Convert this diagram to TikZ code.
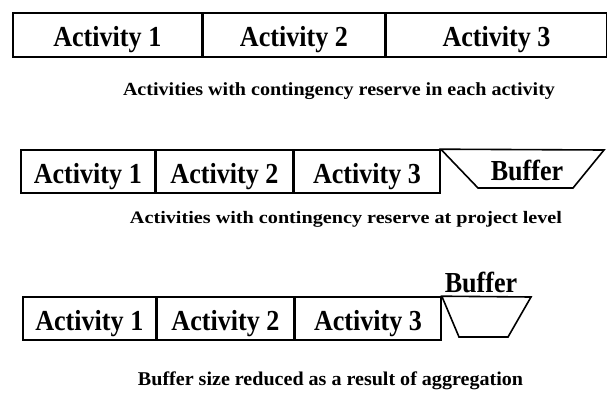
\documentclass[tikz,border=0pt]{standalone}
\usepackage{fontspec}
\usepackage{graphicx}
\setmainfont{Liberation Serif}
\newfontfamily\actfont[FakeStretch=0.90]{Liberation Serif}
\begin{document}
\begin{tikzpicture}[x=1pt,y=-1pt,
  act/.style={draw, line width=1.6pt, inner sep=0pt, anchor=west,
    font=\actfont\bfseries\fontsize{29}{29}\selectfont,
    text height=23pt, text depth=0pt},
  rowone/.style={act, minimum height=44pt},
  rowtwo/.style={act, minimum height=43pt},
  bufline/.style={line width=1.6pt, line join=miter},
  buflabel/.style={inner sep=0pt, anchor=base,
    font=\actfont\bfseries\fontsize{29}{29}\selectfont},
  caption/.style={inner sep=0pt, anchor=base, font=\bfseries}]
\useasboundingbox (0,0) rectangle (607,394);
\fill[white] (0,0) rectangle (607,394);

% contingency reserve held in each activity
\node[rowone, minimum width=189pt] (r1a1) at (12,35) {Activity 1};
\node[rowone, minimum width=181pt] (r1a2) at (r1a1.east) {Activity 2};
\node[rowone, minimum width=221pt] (r1a3) at (r1a2.east) {Activity 3};
\node[caption] (cap1) at (339,95)
  {\resizebox{432pt}{\height}{\fontsize{18.5}{18.5}\selectfont Activities with contingency reserve in each activity}};

% contingency reserve pooled at project level
\node[rowtwo, minimum width=134pt] (r2a1) at (20,171.5) {Activity 1};
\node[rowtwo, minimum width=136pt] (r2a2) at (r2a1.east) {Activity 2};
\node[rowtwo, minimum width=146pt] (r2a3) at (r2a2.east) {Activity 3};
\coordinate (b2tr) at (604,150);
\coordinate (b2br) at (573,188);
\coordinate (b2bl) at (478,188);
\draw[bufline] (r2a3.north east) -- (b2tr) -- (b2br) -- (b2bl) -- cycle;
\node[buflabel] (r2buf) at (527,180) {Buffer};
\node[caption] (cap2) at (346,223)
  {\resizebox{432pt}{\height}{\fontsize{17.5}{17.5}\selectfont Activities with contingency reserve at project level}};

% aggregated buffer
\node[rowtwo, minimum width=133pt] (r3a1) at (22,318.5) {Activity 1};
\node[rowtwo, minimum width=136pt] (r3a2) at (r3a1.east) {Activity 2};
\node[rowtwo, minimum width=146pt] (r3a3) at (r3a2.east) {Activity 3};
\coordinate (b3tr) at (531,297);
\coordinate (b3br) at (508,337);
\coordinate (b3bl) at (459,337);
\draw[bufline] (r3a3.north east) -- (b3tr) -- (b3br) -- (b3bl) -- cycle;
\node[buflabel] (r3buf) at (481,292) {Buffer};
\node[caption] (cap3) at (330.5,385)
  {\resizebox{385pt}{\height}{\fontsize{19.5}{19.5}\selectfont Buffer size reduced as a result of aggregation}};
\end{tikzpicture}
\end{document}
